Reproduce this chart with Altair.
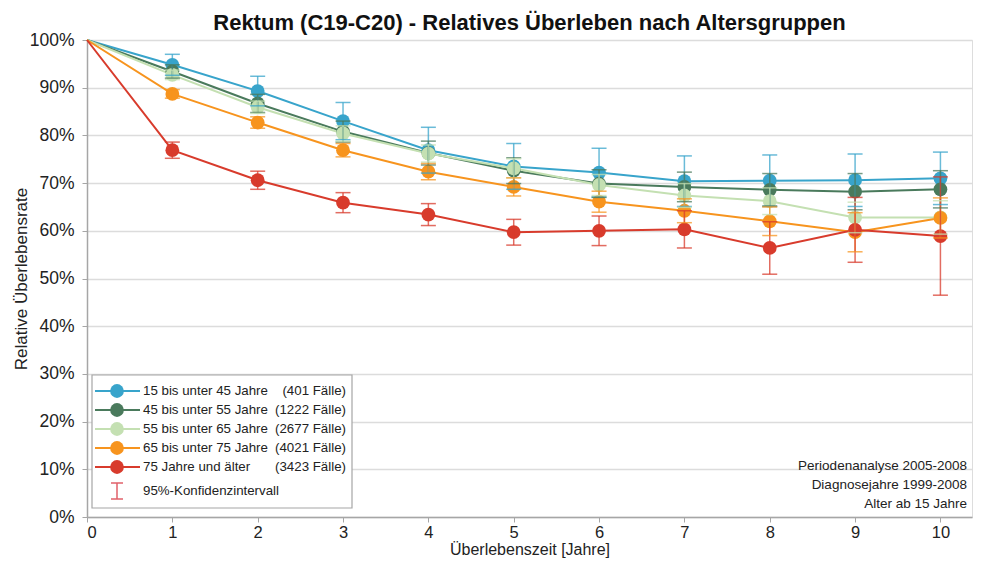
import altair as alt
import pandas as pd

years = [0, 1, 2, 3, 4, 5, 6, 7, 8, 9, 10]
series_names = [
    "15 bis unter 45 Jahre",
    "45 bis unter 55 Jahre",
    "55 bis unter 65 Jahre",
    "65 bis unter 75 Jahre",
    "75 Jahre und älter",
]
cases = ["(401 Fälle)", "(1222 Fälle)", "(2677 Fälle)", "(4021 Fälle)", "(3423 Fälle)"]
colors = ["#38A4CB", "#4A7A5C", "#C4E0B2", "#F7941E", "#D83B2C"]

blue = [100, 94.8, 89.3, 83.0, 76.9, 73.5, 72.2, 70.4, 70.5, 70.6, 71.0]
dgreen = [100, 93.4, 86.7, 80.8, 76.3, 72.6, 69.9, 69.2, 68.6, 68.2, 68.7]
lgreen = [100, 92.7, 85.9, 80.4, 76.2, 73.1, 69.6, 67.4, 66.2, 62.8, 62.8]
orange = [100, 88.7, 82.7, 76.9, 72.4, 69.2, 66.1, 64.2, 62.0, 59.7, 62.7]
red = [100, 76.9, 70.6, 65.9, 63.4, 59.7, 60.0, 60.3, 56.4, 60.2, 58.9]

err_blue = [0, 2.2, 3.1, 3.9, 4.8, 4.8, 5.1, 5.3, 5.4, 5.5, 5.5]
err_dgreen = [0, 1.4, 1.9, 2.2, 2.5, 2.7, 2.9, 3.1, 3.4, 3.8, 3.9]
err_lgreen = [0, 1.0, 1.3, 1.6, 1.8, 2.0, 2.2, 2.5, 2.8, 3.2, 3.5]
err_orange = [0, 0.9, 1.2, 1.4, 1.7, 1.9, 2.2, 2.5, 3.0, 4.1, 4.2]
err_red = [0, 1.7, 1.9, 2.1, 2.3, 2.7, 3.1, 3.9, 5.5, 6.8, 12.4]

notes = ["Periodenanalyse 2005-2008", "Diagnosejahre 1999-2008", "Alter ab 15 Jahre"]

values = [blue, dgreen, lgreen, orange, red]
errs = [err_blue, err_dgreen, err_lgreen, err_orange, err_red]

rows = []
for si, (name, vals, ers) in enumerate(zip(series_names, values, errs)):
    for yr, v, e in zip(years, vals, ers):
        rows.append({"series": name, "order": si, "year": yr, "value": v,
                     "lo": v - e, "hi": v + e})
df = pd.DataFrame(rows)
df_pts = df[df["year"] >= 1]

FONT = "Liberation Sans"
color_scale = alt.Scale(domain=series_names, range=colors)
xs = alt.Scale(domain=[0, 10.37], nice=False, zero=False)
ys = alt.Scale(domain=[0, 100], nice=False)

x_enc = alt.X("year:Q", scale=xs, title="Überlebenszeit [Jahre]",
              axis=alt.Axis(values=list(range(11)), format="d", grid=False, tickSize=5,
                            labelFontSize=16.5, titleFontSize=16, labelPadding=2,
                            titlePadding=1, labelColor="#222", titleColor="#222",
                            titleFontWeight="normal", labelFont=FONT, titleFont=FONT,
                            domainColor="#a6a6a6", tickColor="#a6a6a6", domainWidth=1.5))
y_enc = alt.Y("value:Q", scale=ys, title="Relative Überlebensrate",
              axis=alt.Axis(values=list(range(0, 101, 10)), labelExpr="datum.value + '%'",
                            grid=True, gridColor="#dcdcdc", gridWidth=1.5, tickSize=5,
                            labelFontSize=17.5, titleFontSize=17, labelPadding=8,
                            titlePadding=-1, labelColor="#222", titleColor="#222",
                            titleFontWeight="normal", labelFont=FONT, titleFont=FONT,
                            domainColor="#a6a6a6", tickColor="#a6a6a6", domainWidth=1.5))
col = alt.Color("series:N", scale=color_scale, legend=None)

base = alt.Chart(df)
lines = base.mark_line(strokeWidth=2).encode(x=x_enc, y=y_enc, color=col,
                                              detail="series:N", order="year:Q")
points = alt.Chart(df_pts).mark_circle(size=190, opacity=1).encode(
    x="year:Q", y="value:Q", color=col)
ebar = alt.Chart(df_pts).mark_rule(strokeWidth=1.5, opacity=0.75).encode(
    x="year:Q", y="lo:Q", y2="hi:Q", color=col)
cap_lo = alt.Chart(df_pts).mark_tick(orient="horizontal", size=15, thickness=1.5, opacity=0.75).encode(
    x="year:Q", y="lo:Q", color=col)
cap_hi = alt.Chart(df_pts).mark_tick(orient="horizontal", size=15, thickness=1.5, opacity=0.75).encode(
    x="year:Q", y="hi:Q", color=col)

# custom legend
leg_df = pd.DataFrame({"name": series_names, "cases": cases, "c": colors,
                       "ly": [351, 370, 389, 408, 427]})
box = alt.Chart(pd.DataFrame({"a": [0]})).mark_rect(
    fill="white", stroke="#a6a6a6", strokeWidth=1.2).encode(
    x=alt.value(5), x2=alt.value(265), y=alt.value(335), y2=alt.value(468))
leg_line = alt.Chart(leg_df).mark_rule(strokeWidth=2).encode(
    x=alt.value(8), x2=alt.value(53), y=alt.Y("ly:Q", scale=None),
    color=alt.Color("c:N", scale=None))
leg_pt = alt.Chart(leg_df).mark_circle(size=190, opacity=1).encode(
    x=alt.value(30), y=alt.Y("ly:Q", scale=None), color=alt.Color("c:N", scale=None))
leg_txt = alt.Chart(leg_df).mark_text(align="left", baseline="middle", fontSize=13.3,
                                      font=FONT, color="#222").encode(
    x=alt.value(56), y=alt.Y("ly:Q", scale=None), text="name:N")
leg_cases = alt.Chart(leg_df).mark_text(align="right", baseline="middle", fontSize=13.3,
                                        font=FONT, color="#222").encode(
    x=alt.value(259), y=alt.Y("ly:Q", scale=None), text="cases:N")
ci_df = pd.DataFrame({"t": ["95%-Konfidenzintervall"]})
ci_rule = alt.Chart(ci_df).mark_rule(color="#E0606A", strokeWidth=1.5).encode(
    x=alt.value(30), y=alt.value(443), y2=alt.value(459))
ci_cap1 = alt.Chart(ci_df).mark_rule(color="#E0606A", strokeWidth=1.5).encode(
    x=alt.value(24), x2=alt.value(36), y=alt.value(443))
ci_cap2 = alt.Chart(ci_df).mark_rule(color="#E0606A", strokeWidth=1.5).encode(
    x=alt.value(24), x2=alt.value(36), y=alt.value(459))
ci_txt = alt.Chart(ci_df).mark_text(align="left", baseline="middle", fontSize=13.3,
                                    font=FONT, color="#222").encode(
    x=alt.value(56), y=alt.value(451), text="t:N")

notes_df = pd.DataFrame({"t": notes, "ny": [426, 445, 464]})
notes_txt = alt.Chart(notes_df).mark_text(align="right", baseline="middle", fontSize=13.5,
                                          font=FONT, color="#222").encode(
    x=alt.value(880), y=alt.Y("ny:Q", scale=None), text="t:N")

chart = alt.layer(
    lines, points, ebar, cap_lo, cap_hi,
    box, leg_line, leg_pt, leg_txt, leg_cases, ci_rule, ci_cap1, ci_cap2, ci_txt,
    notes_txt,
).properties(
    width=885, height=477,
    title=alt.TitleParams("Rektum (C19-C20) - Relatives Überleben nach Altersgruppen",
                          font=FONT, fontSize=22, fontWeight="bold", anchor="middle",
                          offset=-4, color="#111"),
    autosize=alt.AutoSizeParams(type="none"),
    padding={"left": 79, "top": 32, "right": 10, "bottom": 43},
).configure_view(stroke="#a6a6a6", strokeWidth=1.5).configure(background="white")

chart.save("out.html", embed_options={"renderer": "svg", "actions": False})
